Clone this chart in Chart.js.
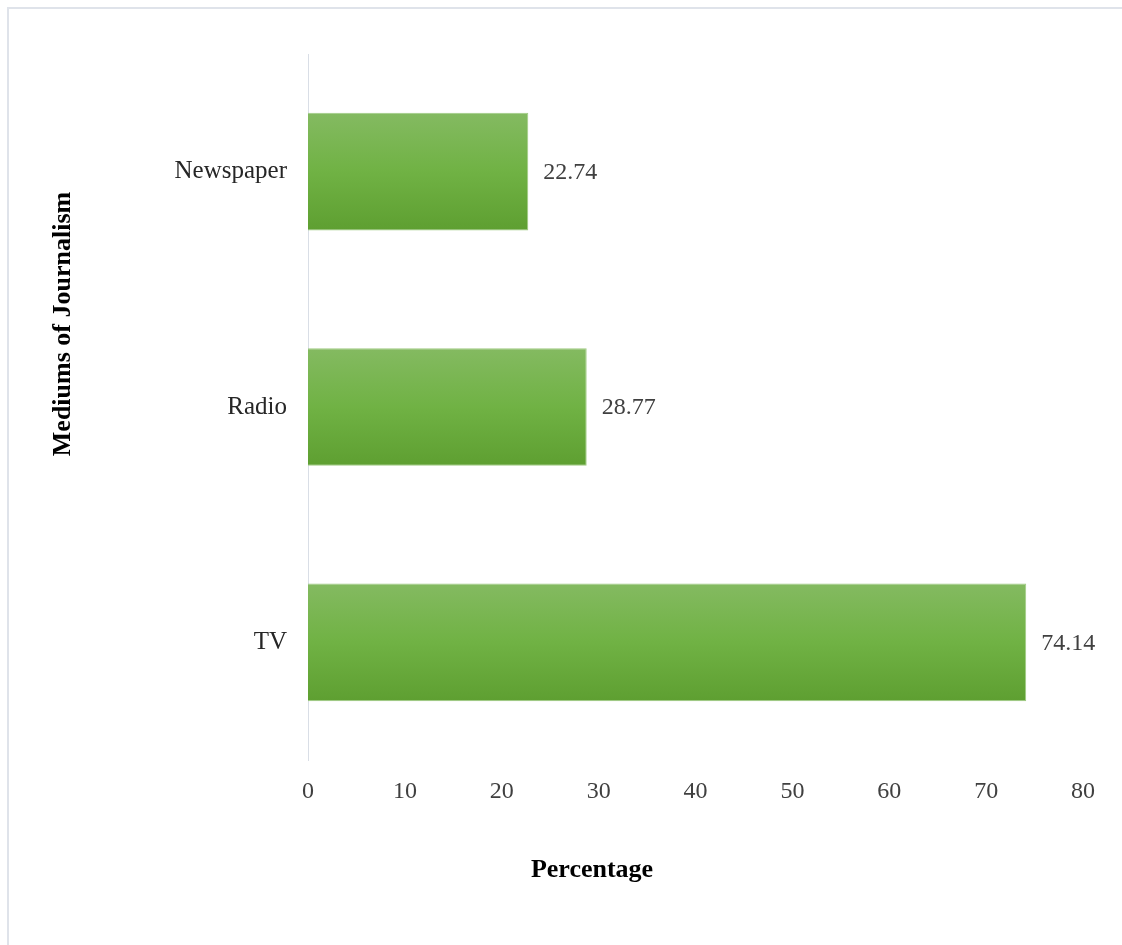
<!DOCTYPE html>
<html>
<head>
<meta charset="utf-8">
<title>Mediums of Journalism</title>
<script src="https://cdn.jsdelivr.net/npm/chart.js@4/dist/chart.umd.min.js"></script>
<style>
  html, body { margin: 0; padding: 0; background: #ffffff; }
  #wrap { position: relative; width: 1122px; height: 945px; }
  canvas { display: block; }
</style>
</head>
<body>
<div id="wrap"><canvas id="chart" width="1122" height="945"></canvas></div>
<script>
// Share of respondents by medium of journalism (%)
const categories = ['Newspaper', 'Radio', 'TV'];
const percentages = [22.74, 28.77, 74.14];
const xTicks = [0, 10, 20, 30, 40, 50, 60, 70, 80];

const xTitle = 'Percentage';
const yTitle = 'Mediums of Journalism';

const SERIF = '"Liberation Serif", "Times New Roman", serif';

// Vertical green gradient for each bar, spanning the bar's own thickness
function barGradient(c) {
  const chart = c.chart;
  const y = chart.scales.y;
  if (!chart.chartArea || !y) return '#70b244';
  const center = y.getPixelForValue(c.dataIndex);
  const band = (y.bottom - y.top) / categories.length;
  const half = band * 0.5 / 2;
  const g = chart.ctx.createLinearGradient(0, center - half, 0, center + half);
  g.addColorStop(0, '#84ba61');
  g.addColorStop(0.5, '#70b244');
  g.addColorStop(1, '#5e9f31');
  return g;
}

// Frame lines, value labels and axis titles
const decorations = {
  id: 'decorations',
  beforeDraw(chart) {
    const ctx = chart.ctx;
    ctx.save();
    ctx.strokeStyle = '#dfe3ea';
    ctx.lineWidth = 2;
    ctx.beginPath();
    ctx.moveTo(8, 946);
    ctx.lineTo(8, 8);
    ctx.lineTo(1122, 8);
    ctx.stroke();
    ctx.restore();
  },
  afterDatasetsDraw(chart) {
    const ctx = chart.ctx;
    const meta = chart.getDatasetMeta(0);
    ctx.save();
    ctx.font = '24px ' + SERIF;
    ctx.fillStyle = '#404040';
    ctx.textAlign = 'left';
    ctx.textBaseline = 'middle';
    meta.data.forEach((bar, i) => {
      ctx.fillText(percentages[i].toFixed(2), bar.x + 15, bar.y + 1);
    });
    ctx.restore();
  },
  afterDraw(chart) {
    const ctx = chart.ctx;
    ctx.save();
    ctx.fillStyle = '#000000';
    ctx.font = 'bold 26px ' + SERIF;
    ctx.textAlign = 'center';
    ctx.textBaseline = 'alphabetic';
    ctx.fillText(xTitle, 592, 877);
    ctx.translate(70, 324);
    ctx.rotate(-Math.PI / 2);
    ctx.fillText(yTitle, 0, 0);
    ctx.restore();
  }
};

new Chart(document.getElementById('chart'), {
  type: 'bar',
  data: {
    labels: categories,
    datasets: [{
      data: percentages,
      backgroundColor: barGradient,
      borderColor: '#9fcb82',
      borderWidth: 1,
      barPercentage: 0.5,
      categoryPercentage: 1.0
    }]
  },
  options: {
    indexAxis: 'y',
    responsive: false,
    animation: false,
    layout: { padding: { top: 54, right: 39, bottom: 0, left: 0 } },
    plugins: {
      legend: { display: false },
      tooltip: { enabled: false },
      title: { display: false }
    },
    scales: {
      x: {
        min: 0,
        max: 80,
        afterBuildTicks(scale) { scale.ticks = xTicks.map(v => ({ value: v })); },
        afterFit(scale) { scale.height = 185; },
        grid: { display: false, drawTicks: false },
        border: { display: false },
        ticks: {
          padding: 17,
          color: '#404040',
          font: { family: SERIF, size: 24 }
        }
      },
      y: {
        afterFit(scale) { scale.width = 308; },
        grid: { display: false, drawTicks: false },
        border: { display: true, color: '#d9dee6', width: 1 },
        ticks: {
          padding: 21,
          color: '#262626',
          font: { family: SERIF, size: 25 }
        }
      }
    }
  },
  plugins: [decorations]
});
</script>
</body>
</html>
